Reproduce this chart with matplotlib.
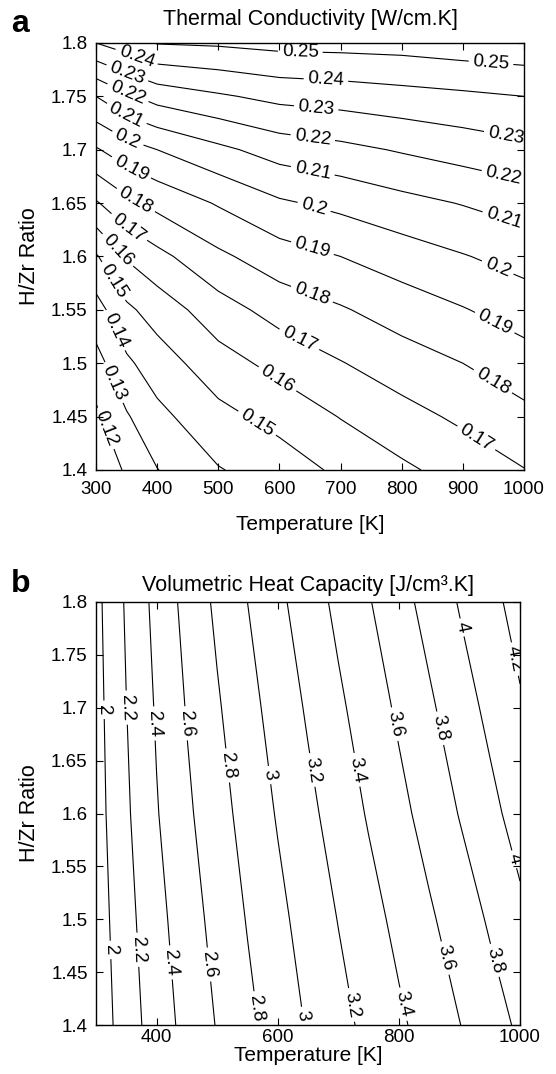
import numpy as np
import matplotlib
matplotlib.use("Agg")
import matplotlib.pyplot as plt
from matplotlib.ticker import FuncFormatter

plt.rcParams["font.family"] = ["Liberation Sans", "DejaVu Sans"]

# ---- panel a: thermal conductivity [W/cm.K] ----
temp_a = [300, 350, 400, 500, 600, 700, 800, 900, 1000]
hzr_a = [1.40, 1.45, 1.50, 1.55, 1.60, 1.65, 1.70, 1.75, 1.80]
conductivity = [
    [0.1110, 0.1216, 0.1297, 0.1394, 0.1447, 0.1520, 0.1582, 0.1639, 0.1697],
    [0.1180, 0.1290, 0.1373, 0.1470, 0.1534, 0.1604, 0.1665, 0.1719, 0.1774],
    [0.1263, 0.1382, 0.1451, 0.1559, 0.1631, 0.1695, 0.1752, 0.1800, 0.1858],
    [0.1360, 0.1480, 0.1543, 0.1657, 0.1739, 0.1790, 0.1846, 0.1894, 0.1946],
    [0.1490, 0.1610, 0.1671, 0.1780, 0.1856, 0.1900, 0.1950, 0.1994, 0.2038],
    [0.1690, 0.1774, 0.1829, 0.1909, 0.1986, 0.2026, 0.2069, 0.2105, 0.2144],
    [0.1890, 0.1956, 0.2000, 0.2077, 0.2143, 0.2173, 0.2209, 0.2243, 0.2274],
    [0.2100, 0.2183, 0.2239, 0.2287, 0.2328, 0.2344, 0.2364, 0.2381, 0.2400],
    [0.2400, 0.2450, 0.2505, 0.2514, 0.2532, 0.2535, 0.2541, 0.2559, 0.2572],
]
levels_a = np.round(np.arange(0.12, 0.2501, 0.01), 2)

# ---- panel b: volumetric heat capacity [J/cm3.K] ----
temp_b = [300, 350, 400, 450, 500, 550, 600, 650, 700, 750, 800, 850, 900, 950, 1000]
hzr_b = [1.4, 1.5, 1.6, 1.7, 1.8]
heat_capacity = [
    [1.871, 2.100, 2.295, 2.461, 2.611, 2.752, 2.887, 3.017, 3.136, 3.252, 3.366, 3.480, 3.595, 3.714, 3.833],
    [1.893, 2.133, 2.337, 2.509, 2.665, 2.811, 2.949, 3.080, 3.206, 3.329, 3.451, 3.571, 3.696, 3.822, 3.955],
    [1.916, 2.170, 2.387, 2.565, 2.723, 2.872, 3.016, 3.151, 3.285, 3.418, 3.544, 3.675, 3.808, 3.945, 4.080],
    [1.929, 2.197, 2.421, 2.612, 2.778, 2.933, 3.081, 3.224, 3.364, 3.498, 3.632, 3.768, 3.909, 4.047, 4.179],
    [1.944, 2.224, 2.460, 2.662, 2.839, 3.000, 3.154, 3.303, 3.447, 3.586, 3.727, 3.870, 4.013, 4.143, 4.272],
]
levels_b = np.round(np.arange(2.0, 4.201, 0.2), 1)

# where the inline labels sit (near points, data coords)
label_spots_a = [
    (634, 1.791), (946, 1.781),
    (367, 1.788), (676, 1.765),
    (350, 1.770), (660, 1.739), (970, 1.712),
    (350, 1.750), (654, 1.709), (965, 1.672),
    (352, 1.735), (654, 1.679), (965, 1.632),
    (352, 1.711), (656, 1.645), (955, 1.587),
    (360, 1.686), (654, 1.608), (952, 1.538),
    (367, 1.655), (654, 1.566), (950, 1.484),
    (349, 1.623), (634, 1.524), (923, 1.431),
    (334, 1.605), (593, 1.482),
    (323, 1.575), (558, 1.439),
    (325, 1.529), (326, 1.481), (316, 1.439),
]
label_spots_b = [
    (308, 1.698), (344, 1.700), (391, 1.685), (442, 1.685), (511, 1.645),
    (582, 1.636), (655, 1.641), (727, 1.641), (789, 1.684), (863, 1.680),
    (905, 1.776), (983, 1.745),
    (323, 1.471), (363, 1.471), (419, 1.459), (483, 1.457), (566, 1.416),
    (646, 1.409), (722, 1.419), (810, 1.420), (859, 1.461), (957, 1.461),
    (986, 1.556),
]

fig = plt.figure(figsize=(5.56, 10.74), dpi=100)
ax_a = fig.add_axes([0.1727, 0.5624, 0.7698, 0.3976])
ax_b = fig.add_axes([0.1727, 0.0456, 0.7626, 0.3939])

fmt = lambda v: f"{v:g}"
tick_fmt = FuncFormatter(lambda v, _: f"{v:g}")

cs_a = ax_a.contour(temp_a, hzr_a, conductivity, levels=levels_a, colors="black", linewidths=0.8)
cs_b = ax_b.contour(temp_b, hzr_b, heat_capacity, levels=levels_b, colors="black", linewidths=0.8)

for ax, title, tpad, xtpad, xpad in [(ax_a, "Thermal Conductivity [W/cm.K]", 13, 8, 12),
                                     (ax_b, "Volumetric Heat Capacity [J/cm³.K]", 8, 3, 0)]:
    ax.set_xlim(300, 1000)
    ax.set_ylim(1.4, 1.8)
    ax.set_yticks(np.arange(1.4, 1.8001, 0.05))
    ax.yaxis.set_major_formatter(tick_fmt)
    ax.tick_params(direction="in", top=True, right=True, length=5, width=0.8, labelsize=13.5)
    ax.tick_params(axis="x", pad=xtpad)
    ax.tick_params(axis="y", pad=6)
    for sp in ax.spines.values():
        sp.set_linewidth(1.0)
    ax.set_title(title, fontsize=15.5, pad=tpad)
    ax.set_xlabel("Temperature [K]", fontsize=15, labelpad=xpad)
    ax.set_ylabel("H/Zr Ratio", fontsize=15.5, labelpad=8)

ax_a.set_xticks(np.arange(300, 1001, 100))
ax_b.set_xticks([400, 600, 800, 1000])

ax_a.clabel(cs_a, fmt=fmt, fontsize=13.5, inline=True, inline_spacing=4, manual=label_spots_a)
ax_b.clabel(cs_b, fmt=fmt, fontsize=13.5, inline=True, inline_spacing=4, manual=label_spots_b)

fig.text(0.02, 0.9702, "a", fontsize=23, fontweight="bold", va="baseline")
fig.text(0.02, 0.4488, "b", fontsize=23, fontweight="bold", va="baseline")

fig.savefig("out.png", dpi=100)
